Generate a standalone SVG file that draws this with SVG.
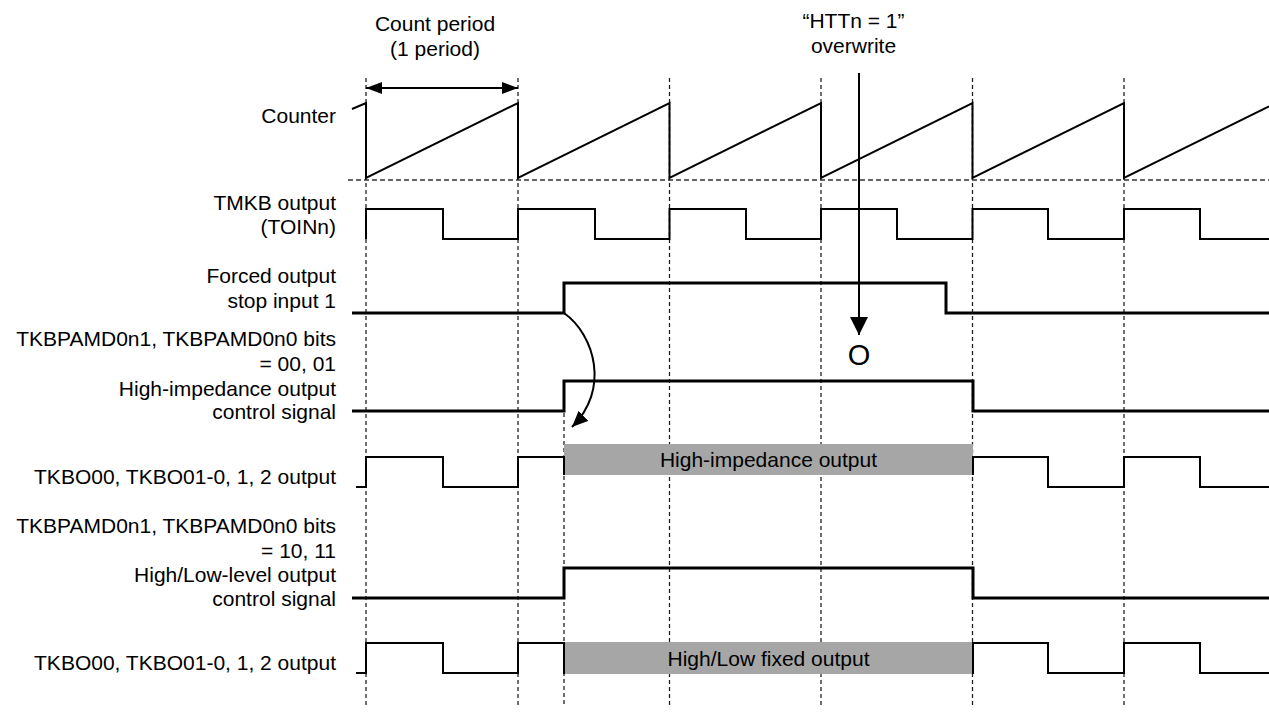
<svg xmlns="http://www.w3.org/2000/svg" width="1269" height="715" viewBox="0 0 1269 715">
<style>
text{font-family:"Liberation Sans",Arial,sans-serif;font-size:21px;fill:#000}
.lbl{text-anchor:end}
.mid{text-anchor:middle}
.grid{stroke:#222;stroke-width:1.3;stroke-dasharray:4 3;fill:none}
.hgrid{stroke:#333;stroke-width:1.3;stroke-dasharray:5 3;fill:none}
.w{stroke:#000;stroke-width:2;fill:none;stroke-linejoin:miter}
.wt{stroke:#000;stroke-width:3;fill:none;stroke-linejoin:miter}
.box{fill:#a6a6a6;stroke:none}
.arr{stroke:#000;stroke-width:2;fill:none}
</style>
<defs>
<marker id="ah" viewBox="0 0 16 12" refX="16" refY="6" markerWidth="16" markerHeight="12" markerUnits="userSpaceOnUse" orient="auto-start-reverse"><path d="M0,0 L16,6 L0,12 z" fill="#000"/></marker>
<marker id="ahBig" viewBox="0 0 18 18" refX="18" refY="9" markerWidth="18" markerHeight="18" markerUnits="userSpaceOnUse" orient="auto"><path d="M0,0 L18,9 L0,18 z" fill="#000"/></marker>
<marker id="ahC" viewBox="0 0 16 14" refX="16" refY="7" markerWidth="16" markerHeight="14" markerUnits="userSpaceOnUse" orient="auto"><path d="M0,0 L16,7 L0,14 z" fill="#000"/></marker>
</defs>

<g id="grid">
<path class="hgrid" d="M348,180 H1269"/>
<path class="grid" d="M366,78 V705 M518,78 V705 M669.5,78 V705 M821,78 V705 M972.5,78 V705 M1124,78 V705 M564,413 V705"/>
</g>

<g id="labels">
<text class="mid" x="435" y="31">Count period</text>
<text class="mid" x="435" y="56">(1 period)</text>
<text class="mid" x="853.5" y="28">“HTTn = 1”</text>
<text class="mid" x="853.5" y="53">overwrite</text>
<text class="lbl" x="336" y="123">Counter</text>
<text class="lbl" x="336" y="210">TMKB output</text>
<text class="lbl" x="336" y="234">(TOINn)</text>
<text class="lbl" x="336" y="283">Forced output</text>
<text class="lbl" x="336" y="307.5">stop input 1</text>
<text class="lbl" x="336" y="346">TKBPAMD0n1, TKBPAMD0n0 bits</text>
<text class="lbl" x="336" y="371">= 00, 01</text>
<text class="lbl" x="336" y="395.5">High-impedance output</text>
<text class="lbl" x="336" y="419">control signal</text>
<text class="lbl" x="336" y="484">TKBO00, TKBO01-0, 1, 2 output</text>
<text class="lbl" x="336" y="532.5">TKBPAMD0n1, TKBPAMD0n0 bits</text>
<text class="lbl" x="336" y="557.5">= 10, 11</text>
<text class="lbl" x="336" y="582">High/Low-level output</text>
<text class="lbl" x="336" y="605.5">control signal</text>
<text class="lbl" x="336" y="670">TKBO00, TKBO01-0, 1, 2 output</text>
</g>

<g id="counter">
<path class="w" d="M352,109 L366,103 L366,178 L518,103 L518,178 L669.5,103 L669.5,178 L821,103 L821,178 L972.5,103 L972.5,178 L1124,103 L1124,178 L1269,106.5"/>
</g>

<g id="tmkb">
<path class="w" d="M366,239 V209 H443 V239 H518 V209 H595 V239 H669.5 V209 H746 V239 H821 V209 H897 V239 H972.5 V209 H1048 V239 H1124 V209 H1200 V239 H1269"/>
</g>

<g id="forced">
<path class="wt" d="M352,313 H564 V283 H946 V313 H1269"/>
</g>

<g id="hiz-control">
<path class="wt" d="M352,411 H564 V381 H973 V411 H1269"/>
</g>

<g id="tkbo-hiz">
<rect class="box" x="564" y="444" width="409" height="31"/>
<path class="w" d="M356,487 H366 V457 H443 V487 H518 V457 H564 V475"/>
<path class="w" d="M973,475 V457 H1048 V487 H1124 V457 H1200 V487 H1269"/>
<text class="mid" x="768.5" y="467">High-impedance output</text>
</g>

<g id="hl-control">
<path class="wt" d="M352,598 H564 V568 H973 V598 H1269"/>
</g>

<g id="tkbo-hl">
<rect class="box" x="564" y="642" width="409" height="32"/>
<path class="w" d="M356,673 H366 V643 H443 V673 H518 V643 H564 V674"/>
<path class="w" d="M973,674 V643 H1048 V673 H1124 V643 H1200 V673 H1269"/>
<text class="mid" x="768.5" y="665.5">High/Low fixed output</text>
</g>

<g id="overwrite-mark">
<text class="mid" x="859" y="365" style="font-size:29px">O</text>
</g>

<g id="connectors">
<path class="arr" d="M366,88 H518" marker-start="url(#ah)" marker-end="url(#ah)"/>
<path class="arr" d="M859,73 V335" marker-end="url(#ahBig)"/>
<path class="arr" d="M564,313 C595,335 610,390 572,427" marker-end="url(#ahC)"/>
</g>
</svg>
